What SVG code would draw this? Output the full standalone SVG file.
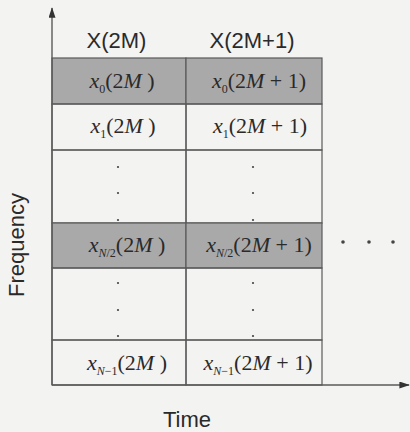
<svg xmlns="http://www.w3.org/2000/svg" width="410" height="432" viewBox="0 0 410 432">
<style>
.bg{fill:#f3f3f2}
.cell{fill:none;stroke:#5a5a5a;stroke-width:1.2}
.shade{fill:#a9a9a9;stroke:#5a5a5a;stroke-width:1.2}
.ax{fill:none;stroke:#5a5a5a;stroke-width:1.4}
.hd{font-family:"Liberation Sans",Arial,sans-serif;font-size:22px;fill:#2a2a2a;text-anchor:middle}
.m{font-family:"Liberation Serif","Times New Roman",serif;font-size:22px;fill:#2a2a2a;text-anchor:middle}
.i{font-style:italic}
.s{font-size:12px}
.dot{fill:#444}
</style>
<defs>
<marker id="ah" viewBox="0 0 12 8" refX="11" refY="4" markerWidth="12" markerHeight="7" markerUnits="userSpaceOnUse" orient="auto">
<path d="M0,0 L12,4 L0,8 z" fill="#333"/>
</marker>
</defs>
<rect class="bg" x="0" y="0" width="410" height="432"/>

<g id="col-headers">
<text class="hd" x="116.5" y="48">X(2M)</text>
<text class="hd" x="252" y="48">X(2M+1)</text>
</g>

<g id="x0-2M">
<rect class="shade" x="52" y="58" width="134" height="46"/>
<text class="m" x="122" y="88"><tspan class="i">x</tspan><tspan class="s" dy="5">0</tspan><tspan dy="-5">(2</tspan><tspan class="i">M</tspan> )</text>
</g>
<g id="x0-2M1">
<rect class="shade" x="186" y="58" width="136" height="46"/>
<text class="m" x="259" y="88"><tspan class="i">x</tspan><tspan class="s" dy="5">0</tspan><tspan dy="-5">(2</tspan><tspan class="i">M</tspan> + 1)</text>
</g>

<g id="x1-2M">
<rect class="cell" x="52" y="104" width="134" height="46"/>
<text class="m" x="123" y="133"><tspan class="i">x</tspan><tspan class="s" dy="5">1</tspan><tspan dy="-5">(2</tspan><tspan class="i">M</tspan> )</text>
</g>
<g id="x1-2M1">
<rect class="cell" x="186" y="104" width="136" height="46"/>
<text class="m" x="260" y="133"><tspan class="i">x</tspan><tspan class="s" dy="5">1</tspan><tspan dy="-5">(2</tspan><tspan class="i">M</tspan> + 1)</text>
</g>

<g id="dots-upper-2M">
<rect class="cell" x="52" y="150" width="134" height="73"/>
<circle class="dot" cx="118" cy="167" r="1.1"/>
<circle class="dot" cx="118" cy="193" r="1.1"/>
<circle class="dot" cx="118" cy="220" r="1.1"/>
</g>
<g id="dots-upper-2M1">
<rect class="cell" x="186" y="150" width="136" height="73"/>
<circle class="dot" cx="253" cy="167" r="1.1"/>
<circle class="dot" cx="253" cy="193" r="1.1"/>
<circle class="dot" cx="253" cy="220" r="1.1"/>
</g>

<g id="xN2-2M">
<rect class="shade" x="52" y="223" width="134" height="45"/>
<text class="m" x="127" y="252"><tspan class="i">x</tspan><tspan class="s" dy="5"><tspan class="i">N</tspan>/2</tspan><tspan dy="-5">(2</tspan><tspan class="i">M</tspan> )</text>
</g>
<g id="xN2-2M1">
<rect class="shade" x="186" y="223" width="136" height="45"/>
<text class="m" x="259" y="252"><tspan class="i">x</tspan><tspan class="s" dy="5"><tspan class="i">N</tspan>/2</tspan><tspan dy="-5">(2</tspan><tspan class="i">M</tspan> + 1)</text>
</g>

<g id="dots-lower-2M">
<rect class="cell" x="52" y="268" width="134" height="72"/>
<circle class="dot" cx="118" cy="283" r="1.1"/>
<circle class="dot" cx="118" cy="310" r="1.1"/>
<circle class="dot" cx="118" cy="336" r="1.1"/>
</g>
<g id="dots-lower-2M1">
<rect class="cell" x="186" y="268" width="136" height="72"/>
<circle class="dot" cx="253" cy="283" r="1.1"/>
<circle class="dot" cx="253" cy="310" r="1.1"/>
<circle class="dot" cx="253" cy="336" r="1.1"/>
</g>

<g id="xN1-2M">
<rect class="cell" x="52" y="340" width="134" height="45"/>
<text class="m" x="127" y="370"><tspan class="i">x</tspan><tspan class="s" dy="5"><tspan class="i">N</tspan>−1</tspan><tspan dy="-5">(2</tspan><tspan class="i">M</tspan> )</text>
</g>
<g id="xN1-2M1">
<rect class="cell" x="186" y="340" width="136" height="45"/>
<text class="m" x="258" y="370"><tspan class="i">x</tspan><tspan class="s" dy="5"><tspan class="i">N</tspan>−1</tspan><tspan dy="-5">(2</tspan><tspan class="i">M</tspan> + 1)</text>
</g>

<g id="ellipsis">
<circle class="dot" cx="343" cy="242" r="1.8"/>
<circle class="dot" cx="369" cy="242" r="1.8"/>
<circle class="dot" cx="393" cy="242" r="1.8"/>
</g>

<g id="connectors">
<line class="ax" x1="52" y1="385" x2="52" y2="8" marker-end="url(#ah)"/>
<line class="ax" x1="52" y1="385" x2="409" y2="385" marker-end="url(#ah)"/>
</g>

<g id="axis-labels">
<text class="hd" transform="translate(24,245) rotate(-90)">Frequency</text>
<text class="hd" x="187" y="427">Time</text>
</g>
</svg>
